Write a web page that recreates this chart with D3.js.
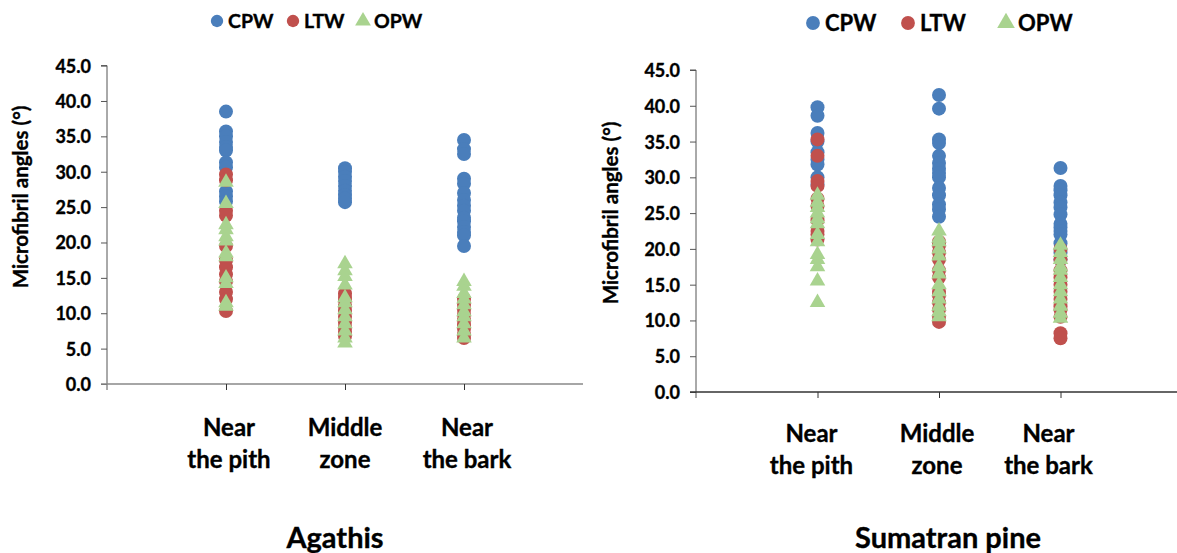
<!DOCTYPE html>
<html>
<head>
<meta charset="utf-8">
<style>
  body { margin: 0; background: #fff; }
  svg text { font-family: Lato, "Open Sans", sans-serif; font-weight: bold; fill: #000; stroke: #000; stroke-width: 0.35px; }
</style>
</head>
<body>
<script src="https://d3js.org/d3.v7.min.js"></script>
<script>
// categories (two lines each) and series names
var categories = [["Near", "the pith"], ["Middle", "zone"], ["Near", "the bark"]];
var seriesNames = ["CPW", "LTW", "OPW"];
var yTicks = [0, 5, 10, 15, 20, 25, 30, 35, 40, 45];

// Agathis: one array per category (pith, middle, bark)
var agathisCPW = [
  [38.5, 35.7, 35.0, 34.2, 33.5, 33.0, 31.3, 30.6, 27.2, 26.5, 25.8],
  [30.5, 30.0, 29.3, 28.7, 28.0, 27.3, 26.7, 26.2, 25.7],
  [34.5, 33.2, 32.5, 29.0, 28.3, 27.0, 26.0, 25.2, 24.5, 23.5, 23.0, 22.2, 21.5, 21.0, 19.5]
];
var agathisLTW = [
  [29.6, 28.8, 24.5, 23.8, 19.5, 17.5, 16.5, 15.5, 14.5, 13.0, 12.0, 10.3],
  [12.8, 12.3, 11.8, 11.0, 10.3, 9.5, 8.7, 8.0, 7.4, 6.8],
  [12.0, 11.2, 10.5, 9.8, 9.0, 8.3, 7.8, 7.0, 6.5]
];
var agathisOPW = [
  [28.5, 25.5, 22.5, 21.8, 20.8, 20.2, 18.5, 18.0, 15.0, 14.2, 11.5, 11.0],
  [17.0, 16.0, 15.2, 14.0, 12.2, 11.5, 10.5, 9.5, 8.5, 7.5, 6.5, 5.8],
  [14.5, 13.8, 12.8, 12.0, 11.2, 10.2, 9.5, 8.5, 7.5, 6.5]
];

// Sumatran pine
var pineCPW = [
  [39.8, 38.6, 36.2, 35.0, 33.5, 32.5, 31.8, 30.0, 29.0],
  [41.5, 39.6, 35.3, 34.8, 33.0, 32.0, 31.2, 30.6, 30.0, 28.5, 27.5, 26.2, 25.5, 24.5],
  [31.3, 28.8, 28.2, 27.5, 26.5, 25.8, 24.8, 23.5, 23.0, 22.5, 22.0, 20.8, 19.5, 18.5]
];
var pineLTW = [
  [35.3, 33.0, 29.5, 28.8, 27.0, 26.0, 24.0, 22.5, 22.0, 21.3],
  [21.0, 20.5, 19.5, 18.5, 17.0, 16.0, 14.0, 13.5, 12.5, 11.5, 10.5, 9.8],
  [20.0, 18.5, 17.0, 16.0, 15.0, 14.0, 13.0, 12.0, 11.5, 10.5, 8.2, 7.5]
];
var pineOPW = [
  [27.5, 26.5, 25.8, 25.0, 24.2, 23.5, 22.0, 21.0, 19.2, 18.5, 17.5, 15.5, 12.5],
  [22.5, 21.5, 21.0, 20.0, 19.0, 17.5, 16.5, 15.0, 14.0, 13.0, 12.0, 11.2, 10.5],
  [20.5, 19.5, 18.5, 17.5, 17.0, 16.0, 15.0, 14.0, 13.0, 12.0, 11.0, 10.3]
];

var colors = { CPW: "#4a7ebb", LTW: "#c0504d", OPW: "#a9d38f" };

var svg = d3.select("body").append("svg")
    .attr("width", 1177)
    .attr("height", 553);

function marker(sel, name, size) {
  if (name === "OPW") {
    sel.append("path")
      .attr("d", d3.symbol().type(d3.symbolTriangle).size(size * 0.9)())
      .attr("fill", colors[name]);
  } else {
    sel.append("circle")
      .attr("r", Math.sqrt(size / Math.PI))
      .attr("fill", colors[name]);
  }
}

function drawPanel(opt) {
  var x = d3.scaleLinear().domain([0, 4]).range([opt.left, opt.right]);
  var y = d3.scaleLinear().domain([0, 45]).range([opt.bottom, opt.top]);
  var g = svg.append("g");

  // y axis
  g.append("g")
    .attr("transform", "translate(" + opt.left + ",0)")
    .call(d3.axisLeft(y).tickValues(yTicks).tickSize(6).tickPadding(10).tickFormat(d3.format(".1f")))
    .call(a => a.select(".domain").attr("stroke", "#555").attr("d", "M0," + (opt.bottom + 6) + "V" + opt.top + "h-6"))
    .call(a => a.selectAll(".tick line").attr("stroke", "#555"))
    .call(a => a.selectAll(".tick text").style("font-size", "18px").attr("dy", "0.36em"));

  // x axis
  g.append("g")
    .attr("transform", "translate(0," + opt.bottom + ")")
    .call(d3.axisBottom(x).tickValues([1, 2, 3]).tickSize(6).tickFormat(""))
    .call(a => a.select(".domain").attr("stroke", opt.xAxisColor).attr("stroke-width", 1.5).attr("d", "M" + (opt.left - 6) + ",0H" + opt.right))
    .call(a => a.selectAll(".tick line").attr("stroke", "#333"));

  // y title
  g.append("text")
    .attr("transform", "translate(" + opt.yTitleX + "," + opt.yTitleY + ") rotate(-90)")
    .attr("text-anchor", "middle")
    .attr("dy", "0.35em")
    .style("font-size", "20.5px")
    .text("Microfibril angles (°)");

  // category labels
  categories.forEach(function(c, i) {
    var t = g.append("text")
      .attr("text-anchor", "middle")
      .style("font-size", "24px");
    c.forEach(function(line, j) {
      t.append("tspan")
        .attr("x", x(i + 1) + opt.labelShift[i])
        .attr("y", opt.labelY + j * 32)
        .text(line);
    });
  });

  // points, series drawn in order so OPW ends on top
  seriesNames.forEach(function(name, s) {
    var pts = [];
    opt.data[s].forEach(function(vals, i) {
      vals.forEach(function(v) { pts.push({ cat: i + 1, v: v }); });
    });
    var sg = g.append("g");
    if (name === "OPW") {
      sg.selectAll("path").data(pts).join("path")
        .attr("transform", d => "translate(" + x(d.cat) + "," + y(d.v) + ")")
        .attr("d", d3.symbol().type(d3.symbolTriangle).size(105)())
        .attr("fill", colors[name]);
    } else {
      sg.selectAll("circle").data(pts).join("circle")
        .attr("cx", d => x(d.cat))
        .attr("cy", d => y(d.v))
        .attr("r", 7)
        .attr("fill", colors[name]);
    }
  });

  // legend
  var lg = g.append("g").attr("transform", "translate(" + opt.legendX + "," + opt.legendY + ")");
  seriesNames.forEach(function(name, s) {
    var it = lg.append("g").attr("transform", "translate(" + opt.legendOffs[s] + ",0)");
    marker(it, name, opt.legendMark);
    it.append("text")
      .attr("x", opt.legendGap)
      .attr("dy", "0.36em")
      .style("font-size", opt.legendFont + "px")
      .text(name);
  });

  // panel title
  g.append("text")
    .attr("x", opt.titleX)
    .attr("y", 548)
    .attr("text-anchor", "middle")
    .style("font-size", "29px")
    .text(opt.title);
}

drawPanel({
  left: 107, right: 583, top: 65.6, bottom: 384,
  data: [agathisCPW, agathisLTW, agathisOPW],
  xAxisColor: "#888",
  yTitleX: 21, yTitleY: 197,
  labelY: 436, labelShift: [3, 0, 3],
  legendX: 217, legendY: 21, legendOffs: [0, 76, 146], legendGap: 11, legendFont: 19.5, legendMark: 120,
  titleX: 335, title: "Agathis"
});

drawPanel({
  left: 696, right: 1182, top: 70, bottom: 392,
  data: [pineCPW, pineLTW, pineOPW],
  xAxisColor: "#333",
  yTitleX: 611, yTitleY: 213,
  labelY: 442, labelShift: [-6, -2, -12],
  legendX: 813, legendY: 23, legendOffs: [0, 95, 193], legendGap: 12, legendFont: 22, legendMark: 150,
  titleX: 948, title: "Sumatran pine"
});
</script>
</body>
</html>
